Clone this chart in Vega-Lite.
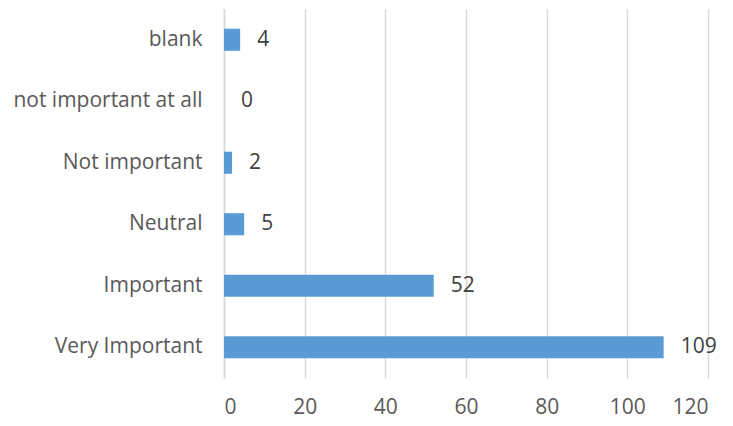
{
  "$schema": "https://vega.github.io/schema/vega-lite/v6.json",
  "autosize": {"type": "none"},
  "width": 484,
  "height": 369,
  "padding": {"left": 224, "top": 9, "right": 25, "bottom": 48},
  "background": "white",
  "config": {"view": {"stroke": null}, "font": "Open Sans"},
  "data": {"values": [
    {"category": "blank", "count": 4},
    {"category": "not important at all", "count": 0},
    {"category": "Not important", "count": 2},
    {"category": "Neutral", "count": 5},
    {"category": "Important", "count": 52},
    {"category": "Very Important", "count": 109}
  ]},
  "encoding": {
    "y": {"field": "category", "type": "nominal", "sort": null,
      "scale": {"paddingInner": 0.64, "paddingOuter": 0.32},
      "axis": {"title": null, "ticks": false, "domain": true, "domainColor": "#d9d9d9", "domainWidth": 1.5, "grid": false, "labelFontSize": 21, "labelColor": "#595959", "labelPadding": 22, "labelFont": "Open Sans", "labelLimit": 300}},
    "x": {"field": "count", "type": "quantitative",
      "scale": {"domain": [0, 120]},
      "axis": {"title": null, "values": [0, 20, 40, 60, 80, 100, 120], "ticks": false, "domain": false, "grid": true, "gridColor": "#d9d9d9", "gridWidth": 1.5, "labelFontSize": 21, "labelColor": "#595959", "labelPadding": 18, "labelFont": "Open Sans"}}
  },
  "layer": [
    {"mark": {"type": "bar", "color": "#5b9bd5"}},
    {"mark": {"type": "text", "align": "left", "dx": 17, "fontSize": 21, "color": "#404040", "baseline": "middle"},
     "encoding": {"text": {"field": "count", "type": "quantitative"}}}
  ]
}
